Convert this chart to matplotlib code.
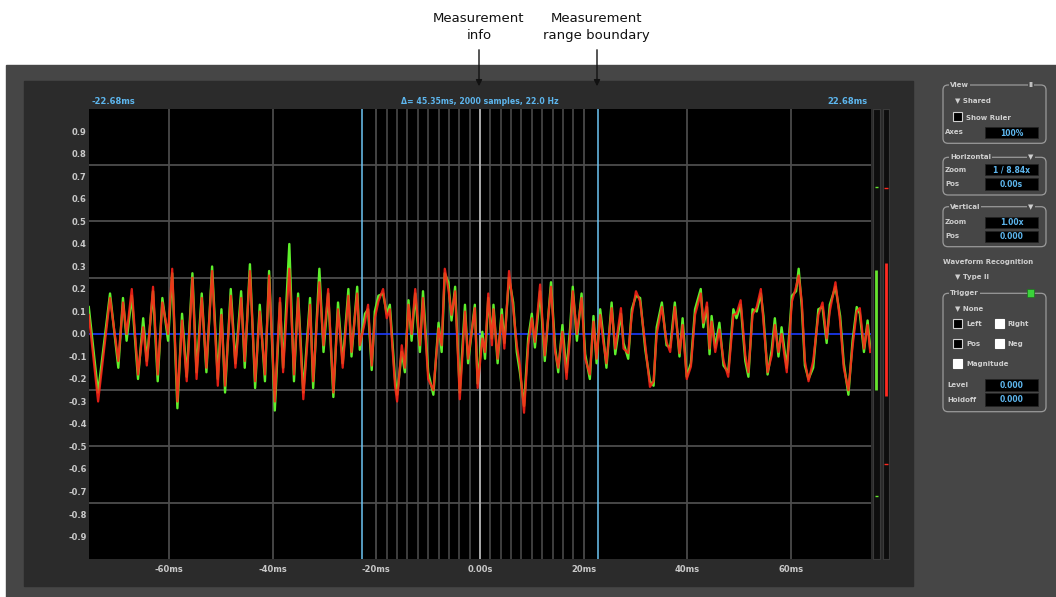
import matplotlib
matplotlib.use("Agg")
import matplotlib.pyplot as plt
from matplotlib.patches import Rectangle, FancyBboxPatch

# waveform extrema (time in ms, amplitude)
t_ms = [
    -75.5, -73.7, -71.4, -69.8, -68.9, -68.2, -67.2, -66.0, -65.0, -64.3, -63.1, -62.2,
    -61.3, -60.2, -59.4, -58.4, -57.5, -56.6, -55.5, -54.7, -53.7, -52.8, -51.7, -50.6,
    -49.9, -49.2, -48.1, -47.2, -46.1, -45.4, -44.4, -43.4, -42.5, -41.5, -40.7, -39.6,
    -38.6, -38.0, -36.8, -35.9, -35.1, -34.1, -32.8, -32.2, -31.0, -30.2, -29.3, -28.3,
    -27.4, -26.5, -25.4, -24.8, -23.7, -23.2, -22.2, -21.6, -20.9, -20.3, -19.6, -18.7,
    -18.0, -17.4, -16.4, -16.0, -15.1, -14.5, -13.8, -13.2, -12.5, -11.6, -11.0, -10.0,
    -9.0, -8.0, -7.4, -6.8, -6.1, -5.5, -4.8, -3.9, -2.9, -2.3,
    -1.0, -0.45, 0.45, 0.97, 1.6, 2.3, 2.6, 3.4, 4.2, 4.7, 5.6, 6.4,
    7.1, 7.7, 8.5, 9.3, 10.0, 10.6, 11.6, 12.5, 13.7, 14.5, 15.1, 15.9,
    16.7, 17.4, 17.9, 18.7, 19.6, 20.3, 21.2, 21.9, 22.5, 23.2, 23.8, 24.4,
    25.4, 26.1, 27.2, 27.7, 28.6, 29.3, 30.1, 30.9, 31.9, 32.8, 33.5, 34.1,
    35.1, 36.0,
    36.7, 37.6, 38.5, 39.1, 39.9, 40.7, 41.5, 42.6, 43.1, 43.8, 44.3, 44.7,
    45.4, 46.2, 47.0, 47.9, 48.9, 49.5, 50.3, 51.2, 51.8, 52.6, 53.4, 54.2,
    54.7, 55.5, 56.3, 56.9, 57.6, 58.2, 59.2, 60.2, 61.0, 61.5, 62.1, 62.7,
    63.4, 64.3, 65.3, 66.1, 66.9, 67.5, 68.6, 69.5, 70.2, 71.1, 71.9, 72.7,
    73.3, 74.1, 74.8, 75.3,
]
red = [
    0.085, -0.30, 0.16, -0.12, 0.14, 0.0, 0.20, -0.18, 0.03, -0.14, 0.21, -0.18,
    0.14, 0.0, 0.29, -0.30, 0.06, -0.21, 0.25, -0.20, 0.16, -0.15, 0.28, -0.23,
    0.085, -0.23, 0.17, -0.15, 0.16, -0.12, 0.28, -0.21, 0.10, -0.18, 0.26, -0.30,
    0.16, -0.17, 0.29, -0.18, 0.16, -0.29, 0.13, -0.21, 0.23, -0.05, 0.20, -0.26,
    0.11, -0.15, 0.17, -0.08, 0.18, -0.05, 0.055, 0.13, -0.14, 0.07, 0.145, 0.20,
    0.07, 0.11, -0.23, -0.30, -0.05, -0.15, 0.13, 0.0, 0.20, -0.05, 0.16, -0.20,
    -0.25, 0.025, -0.05, 0.29, 0.20, 0.085, 0.19, -0.29, 0.10, -0.11,
    0.115, -0.24, -0.02, -0.08, 0.18, -0.05, 0.11, -0.11, 0.085, -0.065, 0.28, 0.115,
    -0.05, -0.14, -0.35, -0.05, 0.07, -0.035, 0.22, -0.095, 0.21, -0.08, -0.15, 0.01,
    -0.20, 0.0, 0.19, 0.0, 0.16, -0.11, -0.18, 0.055, -0.11, 0.085, -0.035, -0.13,
    0.115, -0.065, 0.115, -0.065, -0.085, 0.085, 0.19, 0.145, -0.05, -0.235, -0.21, 0.0,
    0.12, -0.035,
    -0.08, 0.12, -0.085, 0.04, -0.20, -0.145, 0.085, 0.18, 0.05, 0.14, -0.065, 0.055,
    -0.08, 0.02, -0.12, -0.19, 0.085, 0.09, 0.15, -0.095, -0.17, 0.085, 0.12, 0.20,
    0.055, -0.17, -0.095, 0.04, -0.08, 0.0, -0.17, 0.145, 0.21, 0.26, 0.145, -0.12,
    -0.21, -0.12, 0.085, 0.14, -0.02, 0.10, 0.23, 0.055, -0.15, -0.25, -0.055, 0.10,
    0.115, -0.065, 0.04, -0.08,
]
green = [
    0.12, -0.26, 0.18, -0.15, 0.16, -0.03, 0.17, -0.20, 0.07, -0.12, 0.19, -0.21,
    0.16, -0.03, 0.27, -0.33, 0.09, -0.19, 0.27, -0.17, 0.18, -0.17, 0.30, -0.20,
    0.11, -0.26, 0.20, -0.13, 0.19, -0.15, 0.31, -0.24, 0.13, -0.21, 0.28, -0.34,
    0.14, -0.15, 0.40, -0.21, 0.18, -0.26, 0.16, -0.24, 0.29, -0.08, 0.18, -0.28,
    0.14, -0.13, 0.20, -0.10, 0.21, -0.07, 0.09, 0.11, -0.16, 0.10, 0.17, 0.18,
    0.09, 0.13, -0.20, -0.27, -0.08, -0.17, 0.15, -0.03, 0.18, -0.08, 0.19, -0.17,
    -0.27, 0.05, -0.08, 0.27, 0.23, 0.06, 0.21, -0.26, 0.13, -0.13,
    0.13, -0.22, 0.01, -0.11, 0.16, -0.02, 0.13, -0.13, 0.11, -0.04, 0.25, 0.14,
    -0.08, -0.17, -0.32, -0.02, 0.09, -0.06, 0.19, -0.12, 0.23, -0.06, -0.17, 0.04,
    -0.17, 0.03, 0.21, -0.03, 0.18, -0.09, -0.20, 0.08, -0.13, 0.11, -0.01, -0.15,
    0.14, -0.09, 0.09, -0.04, -0.11, 0.11, 0.17, 0.16, -0.07, -0.21, -0.23, 0.03,
    0.14, -0.05,
    -0.06, 0.14, -0.10, 0.07, -0.19, -0.13, 0.11, 0.20, 0.03, 0.12, -0.09, 0.08,
    -0.06, 0.05, -0.14, -0.17, 0.11, 0.07, 0.13, -0.12, -0.19, 0.11, 0.10, 0.18,
    0.08, -0.18, -0.07, 0.07, -0.10, 0.03, -0.15, 0.17, 0.19, 0.29, 0.12, -0.14,
    -0.20, -0.15, 0.11, 0.12, -0.04, 0.13, 0.21, 0.08, -0.13, -0.27, -0.03, 0.12,
    0.09, -0.08, 0.06, -0.06,
]

xtick_vals = [-60, -40, -20, 0, 20, 40, 60]
xtick_labels = ["-60ms", "-40ms", "-20ms", "0.00s", "20ms", "40ms", "60ms"]
ytick_vals = [0.9, 0.8, 0.7, 0.6, 0.5, 0.4, 0.3, 0.2, 0.1, 0.0,
              -0.1, -0.2, -0.3, -0.4, -0.5, -0.6, -0.7, -0.8, -0.9]
ygrid_vals = [0.75, 0.5, 0.25, -0.25, -0.5, -0.75]
ruler_ticks = [-18, -16, -14, -12, -10, -8, -6, -4, -2, 2, 4, 6, 8, 10, 12, 14, 16, 18]
boundary_ms = 22.68
info_text = "\u0394= 45.35ms, 2000 samples, 22.0 Hz"

# level meters: (low, high) of bar and peak-hold markers
meter_green = [-0.25, 0.285]
meter_green_peaks = [0.655, -0.72]
meter_red = [-0.277, 0.316]
meter_red_peaks = [0.65, -0.58]

W, H = 1056, 597
LBL = "#c9c9c9"
BLUE_TXT = "#5db6ee"
PANEL = "#464646"

fig = plt.figure(figsize=(W / 100, H / 100), dpi=100, facecolor="white")
bg = fig.add_axes([0, 0, 1, 1])
bg.set_xlim(0, W)
bg.set_ylim(H, 0)
bg.axis("off")


def px_axes(x0, y0, x1, y1):
    return fig.add_axes([x0 / W, 1 - y1 / H, (x1 - x0) / W, (y1 - y0) / H])


bg.add_patch(Rectangle((6, 65), W - 6, H - 65, color=PANEL, zorder=0))
bg.add_patch(Rectangle((24, 81), 889, 505, color="#2b2b2b", zorder=1))

# annotations above the screenshot
bg.text(479, 27, "Measurement\ninfo", ha="center", va="center", fontsize=9.5,
        linespacing=1.45, color="#111111")
bg.text(596, 27, "Measurement\nrange boundary", ha="center", va="center", fontsize=9.5,
        linespacing=1.45, color="#111111")
for ax_x in (479, 597):
    bg.annotate("", xy=(ax_x, 89), xytext=(ax_x, 47),
                arrowprops=dict(arrowstyle="-|>", color="#111111", lw=1, mutation_scale=9))

# top info row
bg.text(92, 101, f"-{boundary_ms:.2f}ms", ha="left", va="center", fontsize=6,
        fontweight="bold", color=BLUE_TXT, zorder=3)
bg.text(480, 101, info_text, ha="center", va="center", fontsize=5.6,
        fontweight="bold", color=BLUE_TXT, zorder=3)
bg.text(868, 101, f"{boundary_ms:.2f}ms", ha="right", va="center", fontsize=6,
        fontweight="bold", color=BLUE_TXT, zorder=3)

# main scope
ax = px_axes(89.3, 109, 870.7, 559)
ax.set_facecolor("black")
ax.set_xlim(-75.4, 75.4)
ax.set_ylim(-1, 1)
for s in ax.spines.values():
    s.set_visible(False)

ax.set_xticks(xtick_vals)
ax.set_xticklabels(xtick_labels)
ax.set_yticks(ytick_vals)
ax.set_yticklabels([f"{v:.1f}" for v in ytick_vals])
ax.tick_params(length=0, colors=LBL, labelsize=6)
ax.tick_params(axis="x", pad=4)
ax.tick_params(axis="y", pad=2)
for lab in ax.get_xticklabels() + ax.get_yticklabels():
    lab.set_fontweight("bold")

for v in xtick_vals:
    ax.axvline(v, color="#4a4a4a", lw=1.3, zorder=1)
for v in ygrid_vals:
    ax.axhline(v, color="#4d4d4d", lw=1.3, zorder=1)
ax.vlines(ruler_ticks, -1, 1, color="#4f4f4f", lw=1.1, zorder=1)
ax.axvline(0, color="#b0b0b0", lw=1.3, zorder=1)
ax.axvline(-boundary_ms, color="#6cc4f4", lw=1.1, zorder=1)
ax.axvline(boundary_ms, color="#6cc4f4", lw=1.1, zorder=1)

ax.axhline(0, color="#1e3cff", lw=1.2, zorder=2)
ax.plot(t_ms, green, color="#5ef02c", lw=1.7, zorder=3)
ax.plot(t_ms, red, color="#ff2218", lw=1.6, alpha=0.88, zorder=4)

# level meters
for (x0, x1), bar, peaks, col in [((873.3, 880), meter_green, meter_green_peaks, "#66e52e"),
                                 ((882.7, 889.3), meter_red, meter_red_peaks, "#ff2a20")]:
    m = px_axes(x0, 109, x1, 559)
    m.set_facecolor("#0e0e0e")
    m.set_xlim(0, 1)
    m.set_ylim(-1, 1)
    m.set_xticks([])
    m.set_yticks([])
    for s in m.spines.values():
        s.set_color("#3a3a3a")
    m.vlines(0.45, bar[0], bar[1], color=col, lw=2)
    m.hlines(peaks, 0.2, 0.75, color=col, lw=1)

# right control panel
TXT = dict(fontsize=5, fontweight="bold", color="#cfcfcf", va="center", zorder=5)
VAL = dict(fontsize=5.5, fontweight="bold", color=BLUE_TXT, va="center", ha="center", zorder=6)


def group(y0, y1, title, marker):
    bg.add_patch(FancyBboxPatch((943, y0), 103, y1 - y0, boxstyle="round,pad=0,rounding_size=5",
                                fill=False, ec="#9a9a9a", lw=0.9, zorder=4))
    bg.text(950, y0, title, ha="left", bbox=dict(fc=PANEL, ec="none", pad=0.6), **TXT)
    if marker:
        bg.text(1031, y0, marker, ha="center", bbox=dict(fc=PANEL, ec="none", pad=0.6), **TXT)


def value_box(y0, y1, text):
    bg.add_patch(Rectangle((985, y0), 53, y1 - y0, fc="black", ec="#222222", lw=0.5, zorder=5))
    bg.text(1011.5, (y0 + y1) / 2 + 0.5, text, **VAL)


def check(x, y, filled):
    bg.add_patch(Rectangle((x, y), 8.5, 9, fc="white" if filled else "black",
                           ec="white" if filled else "#d0d0d0", lw=0.8, zorder=5))


group(85, 143.3, "View", "II")
bg.text(955, 100, "\u25bc Shared", ha="left", **TXT)
check(953, 111.5, False)
bg.text(966, 117.5, "Show Ruler", ha="left", **TXT)
bg.text(945, 132.5, "Axes", ha="left", **TXT)
value_box(126.7, 138.3, "100%")

group(157.3, 195, "Horizontal", "\u25bc")
bg.text(945, 170, "Zoom", ha="left", **TXT)
value_box(164.3, 175.3, "1 / 8.84x")
bg.text(945, 184, "Pos", ha="left", **TXT)
value_box(178.3, 189.7, "0.00s")

group(206.7, 246.7, "Vertical", "\u25bc")
bg.text(945, 221.7, "Zoom", ha="left", **TXT)
value_box(216.7, 227.7, "1.00x")
bg.text(945, 235.7, "Pos", ha="left", **TXT)
value_box(230.7, 241.7, "0.000")

bg.text(943, 261.7, "Waveform Recognition", ha="left", **TXT)
bg.text(955, 276.7, "\u25bc Type II", ha="left", **TXT)

group(293.3, 411.7, "Trigger", None)
bg.add_patch(Rectangle((1026.7, 289.3), 7.5, 7.5, fc="#3ad23a", ec="#1f6f1f", lw=0.5, zorder=6))
bg.text(955, 308.3, "\u25bc None", ha="left", **TXT)
check(953.3, 319.3, False)
bg.text(966, 324, "Left", ha="left", **TXT)
check(995, 319.3, True)
bg.text(1007.5, 324, "Right", ha="left", **TXT)
check(953.3, 339.3, False)
bg.text(966, 344, "Pos", ha="left", **TXT)
check(995, 339.3, True)
bg.text(1007.5, 344, "Neg", ha="left", **TXT)
check(953.3, 359.3, True)
bg.text(966, 364, "Magnitude", ha="left", **TXT)
bg.text(947, 385, "Level", ha="left", **TXT)
value_box(379.3, 390.7, "0.000")
bg.text(947, 399.5, "Holdoff", ha="left", **TXT)
value_box(393.3, 405.7, "0.000")

fig.savefig("out.png", dpi=100, facecolor="white")
